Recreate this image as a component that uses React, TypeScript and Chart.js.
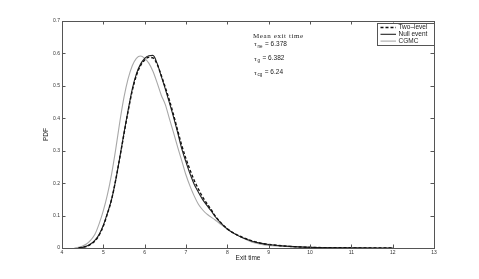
import React, { useEffect, useRef } from "react";
import { Chart, registerables } from "chart.js";

Chart.register(...registerables);

const xNull = [4.4, 4.5, 4.6, 4.7, 4.8, 4.9, 5.0, 5.1, 5.2, 5.3, 5.4, 5.5, 5.6, 5.7, 5.8, 5.9, 6.0, 6.1, 6.2, 6.3, 6.4, 6.5, 6.6, 6.7, 6.8, 6.9, 7.0, 7.1, 7.2, 7.3, 7.4, 7.5, 7.6, 7.7, 7.8, 7.9, 8.0, 8.2, 8.4, 8.6, 8.8, 9.0, 9.5, 10.0, 11.0, 12.0];
const yNull = [0, 0.002, 0.006, 0.013, 0.024, 0.042, 0.07, 0.108, 0.15, 0.21, 0.28, 0.355, 0.425, 0.49, 0.537, 0.567, 0.585, 0.593, 0.594, 0.57, 0.53, 0.49, 0.447, 0.403, 0.355, 0.305, 0.265, 0.228, 0.196, 0.172, 0.15, 0.132, 0.116, 0.098, 0.083, 0.07, 0.058, 0.042, 0.03, 0.021, 0.015, 0.011, 0.005, 0.002, 0.0005, 0];

const xTwoLevel = [4.4, 4.5, 4.6, 4.7, 4.8, 4.9, 5.0, 5.1, 5.2, 5.3, 5.4, 5.5, 5.6, 5.7, 5.8, 5.9, 6.0, 6.1, 6.2, 6.3, 6.4, 6.5, 6.6, 6.7, 6.8, 6.9, 7.0, 7.1, 7.2, 7.3, 7.4, 7.5, 7.6, 7.7, 7.8, 7.9, 8.0, 8.2, 8.4, 8.6, 8.8, 9.0, 9.5, 10.0, 11.0, 12.0];
const yTwoLevel = [0, 0.002, 0.005, 0.012, 0.022, 0.04, 0.068, 0.106, 0.15, 0.21, 0.28, 0.352, 0.422, 0.485, 0.532, 0.562, 0.58, 0.588, 0.586, 0.567, 0.533, 0.495, 0.455, 0.41, 0.362, 0.315, 0.275, 0.24, 0.208, 0.182, 0.158, 0.138, 0.12, 0.1, 0.084, 0.071, 0.059, 0.043, 0.031, 0.022, 0.015, 0.011, 0.005, 0.002, 0.0005, 0];

const xCgmc = [4.3, 4.4, 4.5, 4.6, 4.7, 4.8, 4.9, 5.0, 5.1, 5.2, 5.3, 5.4, 5.5, 5.6, 5.7, 5.8, 5.9, 6.0, 6.1, 6.2, 6.3, 6.4, 6.5, 6.6, 6.7, 6.8, 6.9, 7.0, 7.1, 7.2, 7.3, 7.4, 7.5, 7.6, 7.7, 7.8, 7.9, 8.0, 8.2, 8.4, 8.6, 8.8, 9.0, 9.5, 10.0, 11.0, 12.0];
const yCgmc = [0, 0.002, 0.006, 0.013, 0.025, 0.043, 0.075, 0.115, 0.165, 0.228, 0.305, 0.39, 0.465, 0.522, 0.562, 0.585, 0.592, 0.585, 0.57, 0.545, 0.51, 0.472, 0.442, 0.398, 0.355, 0.31, 0.268, 0.225, 0.19, 0.16, 0.135, 0.118, 0.105, 0.096, 0.087, 0.077, 0.068, 0.058, 0.043, 0.029, 0.018, 0.012, 0.008, 0.004, 0.002, 0.0005, 0];

const seriesNames = ["Two\u2013level", "Null event", "CGMC"];
const xTicks = [4, 5, 6, 7, 8, 9, 10, 11, 12, 13];
const yTicks = [0, 0.1, 0.2, 0.3, 0.4, 0.5, 0.6, 0.7];
const meanTitle = "Mean exit time";
const meanSubs = ["ne", "g", "cg"];
const meanValues = ["6.378", "6.382", "6.24"];

const AXIS = "#555";
const GRAY = "#a8a8a8";
const SANS = "Helvetica, 'Liberation Sans', Arial, sans-serif";

const toPts = (xs: number[], ys: number[]) => xs.map((x, i) => ({ x, y: ys[i] }));

const decorPlugin = {
  id: "decor",
  afterDraw(chart: any) {
    const { ctx, chartArea: a, scales } = chart;
    const xs = scales.x;
    const ys = scales.y;
    ctx.save();
    ctx.strokeStyle = AXIS;
    ctx.lineWidth = 1;
    ctx.strokeRect(Math.round(a.left) + 0.5, Math.round(a.top) + 0.5, Math.round(a.right - a.left), Math.round(a.bottom - a.top));
    ctx.beginPath();
    const tl = 3.5;
    xTicks.forEach((t) => {
      const px = Math.round(xs.getPixelForValue(t)) + 0.5;
      ctx.moveTo(px, a.bottom);
      ctx.lineTo(px, a.bottom - tl);
      ctx.moveTo(px, a.top);
      ctx.lineTo(px, a.top + tl);
    });
    yTicks.forEach((t) => {
      const py = Math.round(ys.getPixelForValue(t)) + 0.5;
      ctx.moveTo(a.left, py);
      ctx.lineTo(a.left + tl, py);
      ctx.moveTo(a.right, py);
      ctx.lineTo(a.right - tl, py);
    });
    ctx.stroke();

    ctx.fillStyle = "#222";
    ctx.font = `6.5px ${SANS}`;
    ctx.textAlign = "center";
    ctx.textBaseline = "middle";
    ctx.fillText("Exit time", (a.left + a.right) / 2, a.bottom + 10);
    ctx.save();
    ctx.translate(a.left - 16, (a.top + a.bottom) / 2);
    ctx.rotate(-Math.PI / 2);
    ctx.fillText("PDF", 0, 0);
    ctx.restore();

    const lx = a.right - 57;
    const ly = a.top + 1.5;
    ctx.fillStyle = "#fff";
    ctx.fillRect(lx, ly, a.right - lx, 22);
    ctx.strokeStyle = AXIS;
    ctx.strokeRect(Math.round(lx) + 0.5, Math.round(ly) + 0.5, Math.round(a.right - lx), 22);
    const styles = [
      { c: "#111", d: [3, 2], w: 1.4 },
      { c: "#222", d: [], w: 1.1 },
      { c: GRAY, d: [], w: 1.1 },
    ];
    seriesNames.forEach((n, i) => {
      const yy = ly + 5 + i * 6.8;
      ctx.strokeStyle = styles[i].c;
      ctx.setLineDash(styles[i].d);
      ctx.lineWidth = styles[i].w;
      ctx.beginPath();
      ctx.moveTo(lx + 3.5, yy);
      ctx.lineTo(lx + 19, yy);
      ctx.stroke();
      ctx.setLineDash([]);
      ctx.fillStyle = "#222";
      ctx.font = `6.5px ${SANS}`;
      ctx.textAlign = "left";
      ctx.textBaseline = "middle";
      ctx.fillText(n, lx + 21.5, yy);
    });

    ctx.fillStyle = "#222";
    ctx.textAlign = "left";
    ctx.textBaseline = "middle";
    ctx.font = `7px 'Liberation Serif', 'DejaVu Serif', serif`;
    (ctx as any).letterSpacing = "0.6px";
    ctx.fillText(meanTitle, 253, 36);
    (ctx as any).letterSpacing = "0px";
    const rows = [44, 58.7, 72.7];
    meanSubs.forEach((s, i) => {
      const y = rows[i];
      ctx.font = `7px 'Liberation Serif', serif`;
      ctx.fillText("\u03c4", 254, y);
      ctx.font = `4.5px ${SANS}`;
      ctx.fillText(s, 257.5, y + 2.5);
      const sw = ctx.measureText(s).width;
      ctx.font = `6.5px ${SANS}`;
      ctx.fillText("= " + meanValues[i], 258.5 + sw + 1.5, y);
    });
    ctx.restore();
  },
};

export default function App() {
  const ref = useRef<HTMLCanvasElement | null>(null);
  useEffect(() => {
    if (!ref.current) return;
    const common = { pointRadius: 0, tension: 0.4, cubicInterpolationMode: "monotone" };
    const chart = new Chart(ref.current, {
      type: "line",
      data: {
        datasets: [
          { label: seriesNames[0], data: toPts(xTwoLevel, yTwoLevel), borderColor: "#111", borderWidth: 1.4, borderDash: [3, 2], ...common },
          { label: seriesNames[1], data: toPts(xNull, yNull), borderColor: "#222", borderWidth: 1.1, ...common },
          { label: seriesNames[2], data: toPts(xCgmc, yCgmc), borderColor: GRAY, borderWidth: 1.1, ...common },
        ],
      },
      options: {
        animation: false,
        responsive: false,
        maintainAspectRatio: false,
        layout: { padding: { left: 0, right: 45, top: 21, bottom: 0 } },
        plugins: { legend: { display: false }, tooltip: { enabled: false } },
        scales: {
          x: {
            type: "linear",
            min: 4,
            max: 13,
            grid: { display: false, drawTicks: false, tickLength: 0 },
            border: { display: false },
            afterFit: (s: any) => { s.height = 31; },
            afterBuildTicks: (s: any) => { s.ticks = xTicks.map((v) => ({ value: v })); },
            ticks: { color: "#333", font: { size: 5, family: SANS }, padding: 2, maxRotation: 0 },
          },
          y: {
            type: "linear",
            min: 0,
            max: 0.7,
            grid: { display: false, drawTicks: false, tickLength: 0 },
            border: { display: false },
            afterFit: (s: any) => { s.width = 62; },
            afterBuildTicks: (s: any) => { s.ticks = yTicks.map((v) => ({ value: v })); },
            ticks: { color: "#333", font: { size: 5, family: SANS }, padding: 2, callback: (v: any) => String(v) },
          },
        },
      },
      plugins: [decorPlugin],
    } as any);
    return () => chart.destroy();
  }, []);
  return (
    <div style={{ position: "fixed", left: 0, top: 0, width: 479, height: 279, background: "#fff" }}>
      <canvas ref={ref} width={479} height={279} style={{ width: 479, height: 279 }} />
    </div>
  );
}
